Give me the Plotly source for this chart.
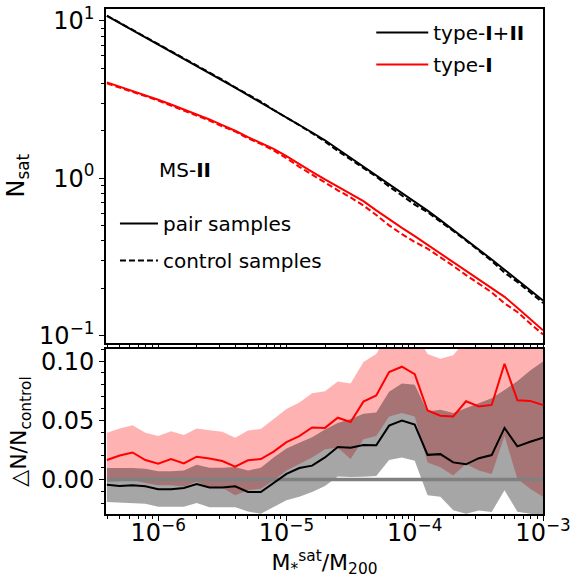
import numpy as np
import plotly.graph_objects as go

_FONT = "DejaVu Sans"
_RED = "#FF0000"
_BLACK = "#000000"
_PINK_FILL = "rgba(255,0,0,0.30)"
_GREY_FILL = "rgba(0,0,0,0.35)"
_ZERO = "#808080"

# log10(M*sat / M200) bin centres
LOG_M = [-6.4, -6.3, -6.2, -6.1, -6.0, -5.9, -5.8, -5.7, -5.6, -5.5, -5.4, -5.3,
         -5.2, -5.1, -5.0, -4.9, -4.8, -4.7, -4.6, -4.5, -4.4, -4.3, -4.2, -4.1,
         -4.0, -3.9, -3.8, -3.7, -3.6, -3.5, -3.4, -3.3, -3.2, -3.1, -3.0]

# N_sat, type-I+II
N_ALL_PAIR = [10.74, 9.68, 8.73, 7.87, 7.10, 6.40, 5.75, 5.18, 4.66, 4.19, 3.76, 3.37,
              3.02, 2.70, 2.45, 2.19, 1.95, 1.74, 1.53, 1.355, 1.194, 1.052, 0.925, 0.813,
              0.711, 0.621, 0.541, 0.470, 0.407, 0.352, 0.304, 0.262, 0.225, 0.194, 0.167]
N_ALL_CTRL = [10.79, 9.73, 8.78, 7.91, 7.16, 6.45, 5.79, 5.20, 4.69, 4.22, 3.78, 3.40,
              3.06, 2.71, 2.44, 2.17, 1.93, 1.71, 1.49, 1.32, 1.163, 1.023, 0.885, 0.774,
              0.679, 0.608, 0.530, 0.463, 0.402, 0.346, 0.298, 0.251, 0.219, 0.188, 0.161]
# N_sat, type-I
N_I_PAIR = [4.06, 3.82, 3.59, 3.37, 3.15, 2.94, 2.74, 2.54, 2.36, 2.17, 2.00, 1.82,
            1.68, 1.535, 1.38, 1.225, 1.096, 0.982, 0.881, 0.791, 0.714, 0.624, 0.547, 0.483,
            0.428, 0.377, 0.332, 0.292, 0.258, 0.227, 0.1995, 0.176, 0.150, 0.127, 0.108]
N_I_CTRL = [4.00, 3.745, 3.51, 3.32, 3.11, 2.89, 2.70, 2.49, 2.32, 2.135, 1.98, 1.79,
            1.65, 1.50, 1.34, 1.18, 1.05, 0.94, 0.837, 0.754, 0.670, 0.583, 0.501, 0.441,
            0.393, 0.356, 0.315, 0.277, 0.242, 0.214, 0.188, 0.160, 0.141, 0.119, 0.1016]

# dN/N_control, type-I+II (median and band)
D_ALL = [-0.0044, -0.0056, -0.0050, -0.0058, -0.0083, -0.0083, -0.0072, -0.0039, -0.0067,
         -0.0067, -0.0058, -0.0106, -0.0106, -0.0031, 0.0047, 0.0097, 0.0117, 0.0186,
         0.0275, 0.0269, 0.0292, 0.0289, 0.0455, 0.0498, 0.0464, 0.0208, 0.0214, 0.0144,
         0.0128, 0.0180, 0.0206, 0.0436, 0.0280, 0.0319, 0.0353]
D_ALL_HI = [0.0097, 0.0097, 0.0097, 0.0090, 0.0069, 0.0069, 0.0075, 0.0125, 0.0100,
            0.0100, 0.0105, 0.0075, 0.0100, 0.0186, 0.0262, 0.0311, 0.0356, 0.0422,
            0.0478, 0.0510, 0.0555, 0.0565, 0.0742, 0.0811, 0.0800, 0.0575, 0.0589,
            0.0561, 0.0603, 0.0644, 0.0686, 0.0756, 0.0831, 0.0922, 0.0997]
D_ALL_LO = [-0.0190, -0.0195, -0.0200, -0.0205, -0.0230, -0.0230, -0.0230, -0.0200,
            -0.0235, -0.0235, -0.0235, -0.0270, -0.0290, -0.0231, -0.0175, -0.0147,
            -0.0106, -0.0055, 0.0025, 0.0020, 0.0022, 0.0030, 0.0165, 0.0186, 0.0158,
            -0.0133, -0.0147, -0.0260, -0.0290, -0.0262, -0.0275, -0.0092, -0.0272,
            -0.0290, -0.0300]

# dN/N_control, type-I
D_I = [0.0164, 0.0203, 0.0228, 0.0164, 0.0133, 0.0172, 0.0136, 0.0192, 0.0178, 0.0156,
       0.0108, 0.0162, 0.0172, 0.0235, 0.0315, 0.0367, 0.0440, 0.0436, 0.0522, 0.0486,
       0.0658, 0.0710, 0.0908, 0.0953, 0.0890, 0.0583, 0.0539, 0.0533, 0.0661, 0.0617,
       0.0630, 0.0978, 0.0670, 0.0664, 0.0630]
D_I_HI = [0.0394, 0.0431, 0.0458, 0.0394, 0.0367, 0.0408, 0.0375, 0.0431, 0.0417, 0.0403,
          0.0353, 0.0414, 0.0426, 0.0512, 0.0596, 0.0651, 0.0728, 0.0746, 0.0828, 0.0811,
          0.0992, 0.1060, 0.125, 0.130, 0.125, 0.106, 0.102, 0.105, 0.118, 0.125, 0.130,
          0.150, 0.135, 0.135, 0.135]
D_I_LO = [-0.0020, -0.0015, -0.0005, -0.0030, -0.0050, -0.0050, -0.0060, -0.0020, -0.0070,
          -0.0070, -0.0133, -0.0092, -0.0078, -0.0008, 0.0075, 0.0131, 0.0186, 0.0256,
          0.0269, 0.0172, 0.0339, 0.0367, 0.0533, 0.0561, 0.0533, 0.0144, 0.0103, 0.0033,
          0.0131, 0.0075, 0.0047, 0.0367, 0.0006, -0.0078, -0.0147]

X_TICKS = [1e-6, 1e-5, 1e-4, 1e-3]
X_TICKTEXT = ["10<sup>\u22126</sup>", "10<sup>\u22125</sup>", "10<sup>\u22124</sup>", "10<sup>\u22123</sup>"]
Y_TICKS = [0.1, 1, 10]
Y_TICKTEXT = ["10<sup>\u22121</sup>", "10<sup>0</sup>", "10<sup>1</sup>"]

x = 10 ** np.array(LOG_M)

minor_x = [m * 10.0 ** e for e in range(-7, -3) for m in range(2, 10)]
minor_y = [m * 10.0 ** e for e in range(-2, 1) for m in range(2, 10)]

fig = go.Figure()

# ---- top panel
fig.add_trace(go.Scatter(x=x, y=N_ALL_CTRL, mode="lines", showlegend=False,
                         line=dict(color=_BLACK, width=2, dash="6px,3px")))
fig.add_trace(go.Scatter(x=x, y=N_ALL_PAIR, mode="lines", name="type-<b>I</b>+<b>II</b>",
                         legend="legend", legendgroup="a",
                         line=dict(color=_BLACK, width=2)))
fig.add_trace(go.Scatter(x=x, y=N_I_CTRL, mode="lines", showlegend=False,
                         line=dict(color=_RED, width=2, dash="6px,3px")))
fig.add_trace(go.Scatter(x=x, y=N_I_PAIR, mode="lines", name="type-<b>I</b>",
                         legend="legend", legendgroup="b",
                         line=dict(color=_RED, width=2)))
fig.add_trace(go.Scatter(x=[None], y=[None], mode="lines", name="pair samples",
                         legend="legend2", legendgroup="c",
                         line=dict(color=_BLACK, width=2)))
fig.add_trace(go.Scatter(x=[None], y=[None], mode="lines", name="control samples",
                         legend="legend2", legendgroup="d",
                         line=dict(color=_BLACK, width=2, dash="6px,3px")))

# ---- bottom panel
fig.add_trace(go.Scatter(x=np.concatenate([x, x[::-1]]),
                         y=D_I_HI + D_I_LO[::-1],
                         fill="toself", fillcolor=_PINK_FILL, mode="lines",
                         line=dict(width=0), showlegend=False, hoverinfo="skip",
                         xaxis="x2", yaxis="y2"))
fig.add_trace(go.Scatter(x=np.concatenate([x, x[::-1]]),
                         y=D_ALL_HI + D_ALL_LO[::-1],
                         fill="toself", fillcolor=_GREY_FILL, mode="lines",
                         line=dict(width=0), showlegend=False, hoverinfo="skip",
                         xaxis="x2", yaxis="y2"))
fig.add_trace(go.Scatter(x=[x[0], x[-1]], y=[0, 0], mode="lines",
                         line=dict(color=_ZERO, width=3.5), showlegend=False,
                         xaxis="x2", yaxis="y2"))
fig.add_trace(go.Scatter(x=x, y=D_I, mode="lines", line=dict(color=_RED, width=2),
                         showlegend=False, xaxis="x2", yaxis="y2"))
fig.add_trace(go.Scatter(x=x, y=D_ALL, mode="lines", line=dict(color=_BLACK, width=2),
                         showlegend=False, xaxis="x2", yaxis="y2"))

axis_common = dict(showline=True, linecolor=_BLACK, linewidth=1.6, mirror=True,
                   ticks="outside", tickcolor=_BLACK, tickwidth=1.2, ticklen=5,
                   showgrid=False, zeroline=False, ticklabeloverflow="allow",
                   tickfont=dict(family=_FONT, size=24, color=_BLACK))
minor_common = dict(ticks="outside", ticklen=3, tickcolor=_BLACK, tickwidth=1)

fig.update_layout(
    width=574, height=584,
    paper_bgcolor="white", plot_bgcolor="white",
    font=dict(family=_FONT, color=_BLACK),
    margin=dict(l=106, r=28, t=3, b=70),
    xaxis=dict(axis_common, type="log", range=[-6.407, -3.0], domain=[0, 1],
               anchor="y", showticklabels=False, tickvals=X_TICKS,
               minor=dict(minor_common, tickvals=minor_x)),
    yaxis=dict(axis_common, type="log", range=[-1.045, 1.075], domain=[0.3395, 1],
               anchor="x", tickvals=Y_TICKS, ticktext=Y_TICKTEXT,
               minor=dict(minor_common, tickvals=minor_y),
               title=dict(text="N<sub>sat</sub>", font=dict(size=24), standoff=8)),
    xaxis2=dict(axis_common, type="log", range=[-6.407, -3.0], domain=[0, 1],
                anchor="y2", tickvals=X_TICKS, ticktext=X_TICKTEXT,
                ticklabelstandoff=-9,
                minor=dict(minor_common, tickvals=minor_x),
                title=dict(text="M<sub>*</sub><sup>sat</sup>/M<sub>200</sub>",
                           font=dict(size=22), standoff=4)),
    yaxis2=dict(axis_common, range=[-0.0292, 0.1103], domain=[0, 0.3268],
                anchor="x2", tickvals=[0.0, 0.05, 0.10], ticktext=["0.00", "0.05", "0.10"],
                minor=dict(minor_common, dtick=0.01),
                title=dict(text="\u25b3N/N<sub>control</sub>", font=dict(size=22), standoff=8)),
    legend=dict(x=0.607, y=0.992, xanchor="left", yanchor="top", bgcolor="rgba(0,0,0,0)",
                font=dict(family=_FONT, size=20), itemwidth=52,
                traceorder="grouped", tracegroupgap=3),
    legend2=dict(x=0.0205, y=0.614, xanchor="left", yanchor="top", bgcolor="rgba(0,0,0,0)",
                 font=dict(family=_FONT, size=20), itemwidth=38,
                 traceorder="grouped", tracegroupgap=8),
    annotations=[dict(text="MS-<b>II</b>", x=0.18, y=0.681, xref="paper", yref="paper",
                      xanchor="center", yanchor="middle", showarrow=False,
                      font=dict(family=_FONT, size=20, color=_BLACK))],
)

fig.write_html("out.html", config={"displayModeBar": False},
               post_script="document.body.style.margin='0px';")
